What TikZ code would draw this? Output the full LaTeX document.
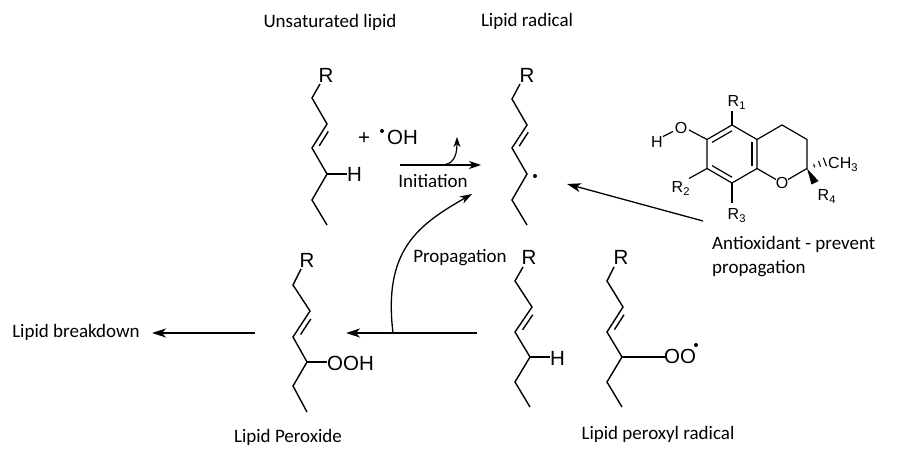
\documentclass[tikz,border=0pt]{standalone}
\usepackage{fontspec}
\setmainfont{Carlito}
\newfontfamily\chemfont{Liberation Sans}
\usetikzlibrary{arrows.meta,calc}
\begin{document}
\begin{tikzpicture}[x=1pt,y=-1pt,
  bond/.style={line width=1.4pt, line join=miter},
  tb/.style={line width=1.2pt, line join=miter},
  txt/.style={font=\fontsize{19}{22}\selectfont, inner sep=0pt, anchor=base},
  lab/.style={font=\chemfont\fontsize{20.5}{23}\selectfont, inner sep=0pt, anchor=base},
  labw/.style={lab, anchor=base west},
  toc/.style={font=\chemfont\fontsize{16}{18}\selectfont, inner sep=0pt, anchor=base west},
  arr/.style={line width=1.3pt, -{Stealth[length=14pt,width=9pt,inset=4pt]}},
  sarr/.style={line width=1.2pt, -{Stealth[length=10pt,width=7pt,inset=3pt]}}
]
\useasboundingbox (0,0) rectangle (899,462);

% ---------- titles ----------
\node[txt] (tUns) at (330,28) {Unsaturated lipid};
\node[txt] (tRad) at (527,27) {Lipid radical};
\node[txt] (tIni) at (433,188) {Initiation};
\node[txt] (tPro) at (460,262) {Propagation};
\node[txt] (tBrk) at (76,337) {Lipid breakdown};
\node[txt] (tPer) at (288,442) {Lipid Peroxide};
\node[txt] (tPxr) at (658,439) {Lipid peroxyl radical};
\node[txt, anchor=base west] (tAnt1) at (712,250) {Antioxidant - prevent};
\node[txt, anchor=base west] (tAnt2) at (712,273) {propagation};

% ---------- S1 unsaturated lipid ----------
\node[lab] (aR) at (326,83) {R};
\coordinate (a0) at (320,84);
\coordinate (a1) at (312,98);
\coordinate (a2) at (327,124);
\coordinate (a3) at (312,148);
\coordinate (a4) at (327,174);
\coordinate (a5) at (312,200);
\coordinate (a6) at (327,225);
\coordinate (aHb) at (347,174);
\draw[bond] (a0) -- (a1) -- (a2) -- (a3) -- (a4) -- (a5) -- (a6);
\draw[bond] ($(a2)!0.2!(a3)!5pt!90:(a3)$) -- ($(a3)!0.2!(a2)!5pt!-90:(a2)$);
\draw[bond] (a4) -- (aHb);
\node[labw] (aH) at (347,181.5) {H};
\node[lab] (plus) at (364,145) {+};
\fill (382,131) circle (2pt);
\node[labw] (OHr) at (387,145) {OH};

% ---------- S2 lipid radical ----------
\node[lab] (bR) at (527,83) {R};
\coordinate (b0) at (520,84);
\coordinate (b1) at (512,99);
\coordinate (b2) at (527,125);
\coordinate (b3) at (512,148);
\coordinate (b4) at (527,174);
\coordinate (b5) at (512,200);
\coordinate (b6) at (527,225);
\draw[bond] (b0) -- (b1) -- (b2) -- (b3) -- (b4) -- (b5) -- (b6);
\draw[bond] ($(b2)!0.2!(b3)!5pt!90:(b3)$) -- ($(b3)!0.2!(b2)!5pt!-90:(b2)$);
\fill (535,176) circle (2pt);

% ---------- S3 lipid peroxide ----------
\node[lab] (cR) at (307,268) {R};
\coordinate (c0) at (301,269);
\coordinate (c1) at (293,285);
\coordinate (c2) at (310,311);
\coordinate (c3) at (293,337);
\coordinate (c4) at (307,362);
\coordinate (c5) at (293,386);
\coordinate (c6) at (307,412);
\coordinate (cOb) at (327,362);
\draw[bond] (c0) -- (c1) -- (c2) -- (c3) -- (c4) -- (c5) -- (c6);
\draw[bond] ($(c2)!0.2!(c3)!5pt!90:(c3)$) -- ($(c3)!0.2!(c2)!5pt!-90:(c2)$);
\draw[bond] (c4) -- (cOb);
\node[labw] (cOOH) at (327,370) {OOH};

% ---------- S4 lipid (H) ----------
\node[lab] (dR) at (529,265) {R};
\coordinate (d0) at (523,267);
\coordinate (d1) at (515,281);
\coordinate (d2) at (532,307);
\coordinate (d3) at (515,332);
\coordinate (d4) at (530,357);
\coordinate (d5) at (515,382);
\coordinate (d6) at (530,407);
\coordinate (dHb) at (550,357);
\draw[bond] (d0) -- (d1) -- (d2) -- (d3) -- (d4) -- (d5) -- (d6);
\draw[bond] ($(d2)!0.2!(d3)!5pt!90:(d3)$) -- ($(d3)!0.2!(d2)!5pt!-90:(d2)$);
\draw[bond] (d4) -- (dHb);
\node[labw] (dH) at (550,365) {H};

% ---------- S5 lipid peroxyl radical ----------
\node[lab] (eR) at (621,265) {R};
\coordinate (e0) at (614,267);
\coordinate (e1) at (607,281);
\coordinate (e2) at (623,307);
\coordinate (e3) at (607,332);
\coordinate (e4) at (622,357);
\coordinate (e5) at (607,382);
\coordinate (e6) at (622,407);
\coordinate (eOb) at (665,357);
\draw[bond] (e0) -- (e1) -- (e2) -- (e3) -- (e4) -- (e5) -- (e6);
\draw[bond] ($(e2)!0.2!(e3)!5pt!90:(e3)$) -- ($(e3)!0.2!(e2)!5pt!-90:(e2)$);
\draw[bond] (e4) -- (eOb);
\node[labw] (eOO) at (664,363.5) {OO};
\fill (696,345) circle (2pt);

% ---------- tocopherol ----------
\coordinate (tc) at (732,154);
\coordinate (t1) at (732,125);
\coordinate (t2) at (757,139.5);
\coordinate (t3) at (757,168.5);
\coordinate (t4) at (732,183);
\coordinate (t5) at (707,168.5);
\coordinate (t6) at (707,139.5);
\coordinate (p2) at (782,125);
\coordinate (p3) at (807,139.5);
\coordinate (p4) at (807,168.5);
\draw[tb] (t1) -- (t2) -- (t3) -- (t4) -- (t5) -- (t6) -- cycle;
\draw[tb] ($(tc)!0.8!(t6)$) -- ($(tc)!0.8!(t1)$);
\draw[tb] ($(tc)!0.8!(t2)$) -- ($(tc)!0.8!(t3)$);
\draw[tb] ($(tc)!0.8!(t4)$) -- ($(tc)!0.8!(t5)$);
\draw[tb] (t2) -- (p2) -- (p3) -- (p4) -- (788,179.5);
\draw[tb] (t3) -- (776,179.5);
\node[toc, anchor=base] (tO) at (782,188.5) {O};
% substituents
\draw[tb] (t1) -- (732,111);
\node[toc] (tR1) at (727.5,107) {R\textsubscript{1}};
\draw[tb] (t6) -- (689,130);
\node[toc, anchor=base] (tOH) at (681,133.5) {O};
\draw[tb] (663,136.5) -- (673,131.5);
\node[toc, anchor=base] (tHH) at (657,147.5) {H};
\draw[tb] (t5) -- (689,178.5);
\node[toc] (tR2) at (671.5,192.5) {R\textsubscript{2}};
\draw[tb] (t4) -- (732,203);
\node[toc] (tR3) at (727.5,220) {R\textsubscript{3}};
% hashed wedge to CH3
\coordinate (hw) at (826,161.5);
\foreach \t/\w in {0.38/1.6, 0.66/3.0, 0.94/4.4}
  \draw[line width=1.1pt] ($(p4)!\t!(hw)!\w pt!90:(hw)$) -- ($(p4)!\t!(hw)!\w pt!-90:(hw)$);
\node[toc] (tCH) at (828,168.5) {CH\textsubscript{3}};
% solid wedge to R4
\fill (p4) -- (811.5,184.5) -- (818.5,181) -- cycle;
\node[toc] (tR4) at (817.5,200.5) {R\textsubscript{4}};

% ---------- arrows ----------
\coordinate (ini1) at (400,165);
\coordinate (ini2) at (481,165);
\draw[arr, -{Stealth[length=12pt,width=8pt,inset=3.5pt]}] (ini1) -- (ini2);
\coordinate (cur1) at (441,165);
\coordinate (cur2) at (457,137);
\draw[sarr] (cur1) .. controls (452,165) and (457,158) .. (cur2);

\coordinate (ant1) at (703,221);
\coordinate (ant2) at (567,184);
\draw[arr] (ant1) -- (ant2);

\coordinate (brk1) at (255,333);
\coordinate (brk2) at (152,333);
\draw[arr] (brk1) -- (brk2);

\coordinate (prp1) at (477,333);
\coordinate (prp2) at (346,333);
\draw[arr] (prp1) -- (prp2);

\coordinate (crv1) at (393,333);
\coordinate (crv2) at (472,194);
\draw[line width=1.3pt, -{Stealth[length=12pt,width=8pt,inset=3.5pt]}] (crv1) .. controls (383,250) and (418,225) .. (crv2);
\end{tikzpicture}
\end{document}
